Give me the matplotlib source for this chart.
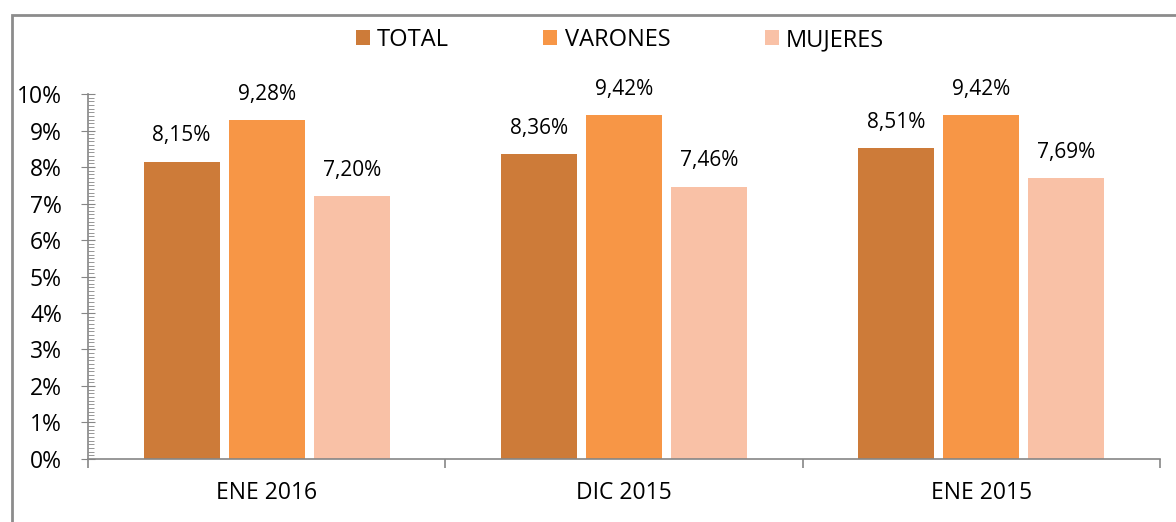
import numpy as np
import matplotlib.pyplot as plt
from matplotlib.patches import Rectangle
from matplotlib.ticker import MultipleLocator, FixedLocator

plt.rcParams['font.family'] = ['Open Sans', 'DejaVu Sans']

categories = ['ENE 2016', 'DIC 2015', 'ENE 2015']
series = ['TOTAL', 'VARONES', 'MUJERES']
total = [8.15, 8.36, 8.51]
varones = [9.28, 9.42, 9.42]
mujeres = [7.20, 7.46, 7.69]
colors = ['#CD7B39', '#F79646', '#F9C1A6']

fig = plt.figure(figsize=(11.76, 5.22), dpi=100)
ax = fig.add_axes([0.0748, 0.1207, 0.9116, 0.6992])

# outer chart border (left + top only visible)
fig.patches.append(Rectangle((11.5 / 1176, -0.05), 1.2, 1 - 14.5 / 522 + 0.05,
                             transform=fig.transFigure, fill=False,
                             edgecolor='#8C8C8C', linewidth=2))

x = np.arange(len(categories))
w = 0.213
step = 0.238
for i, (name, vals) in enumerate(zip(series, [total, varones, mujeres])):
    bars = ax.bar(x + (i - 1) * step, vals, width=w, color=colors[i], label=name)
    for b, v in zip(bars, vals):
        ax.annotate(f'{v:.2f}'.replace('.', ',') + '%',
                    (b.get_x() + b.get_width() / 2, v),
                    xytext=(0, 11), textcoords='offset points',
                    ha='center', va='bottom', fontsize=15)

ax.set_xlim(-0.5, 2.5)
ax.set_ylim(0, 10)
ax.yaxis.set_minor_locator(MultipleLocator(0.1))
ax.set_yticks(range(11))
ax.set_yticklabels([f'{t}%' for t in range(11)], fontsize=16.5)
ax.tick_params(axis='y', which='major', direction='inout', length=9.5, color='#868686', pad=14)
ax.tick_params(axis='y', which='minor', direction='in', length=4.5, color='#868686')

ax.set_xticks(x)
ax.set_xticklabels(categories, fontsize=16.5)
ax.xaxis.set_minor_locator(FixedLocator([-0.5, 0.5, 1.5, 2.5]))
ax.tick_params(axis='x', which='major', length=0, pad=16)
ax.tick_params(axis='x', which='minor', direction='out', length=6.5, color='#868686', width=1.2)

for s in ['top', 'right']:
    ax.spines[s].set_visible(False)
for s in ['left', 'bottom']:
    ax.spines[s].set_color('#868686')
    ax.spines[s].set_linewidth(1.2)

fig.legend(loc='center', bbox_to_anchor=(0.527, 1 - 40 / 522), ncol=3, frameon=False,
           fontsize=17, handlelength=0.6, handleheight=0.6, handletextpad=0.3,
           columnspacing=4.0)

fig.savefig('out.png', dpi=100)
